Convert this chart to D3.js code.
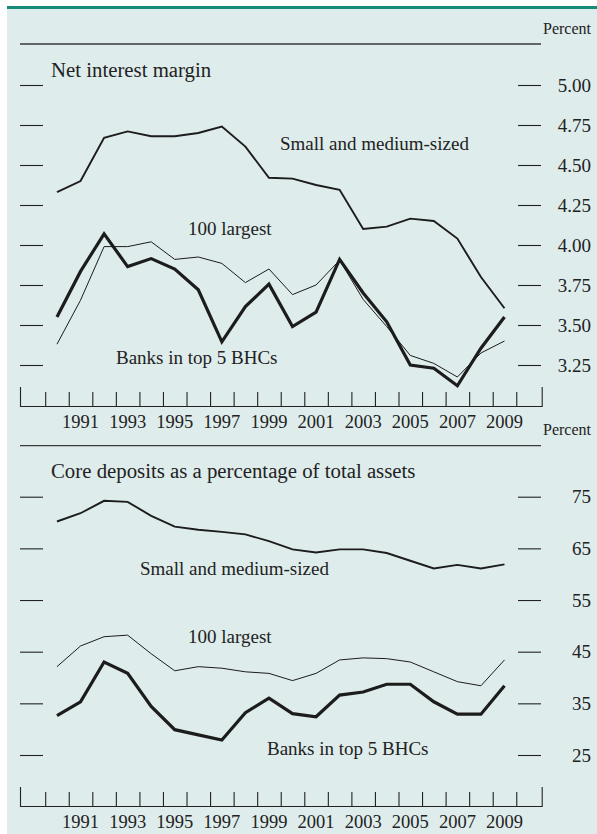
<!DOCTYPE html>
<html>
<head>
<meta charset="utf-8">
<script src="https://cdn.jsdelivr.net/npm/d3@7"></script>
<style>
  html, body { margin: 0; padding: 0; background: #ffffff; }
  svg { display: block; }
  text { font-family: "Liberation Serif", "Times New Roman", serif; fill: #222; }
</style>
</head>
<body>
<script>
// ---------- data ----------
const years = [1990, 1991, 1992, 1993, 1994, 1995, 1996, 1997, 1998, 1999,
               2000, 2001, 2002, 2003, 2004, 2005, 2006, 2007, 2008, 2009];
const yearLabels = [1991, 1993, 1995, 1997, 1999, 2001, 2003, 2005, 2007, 2009];

// Net interest margin (percent)
const nimSmall   = [4.33, 4.40, 4.67, 4.71, 4.68, 4.68, 4.70, 4.74, 4.615, 4.42,
                    4.415, 4.375, 4.345, 4.10, 4.115, 4.165, 4.15, 4.04, 3.80, 3.605];
const nimLarge100 = [3.38, 3.655, 3.99, 3.99, 4.02, 3.91, 3.925, 3.885, 3.765, 3.85,
                    3.69, 3.75, 3.905, 3.66, 3.49, 3.31, 3.26, 3.175, 3.325, 3.40];
const nimTop5    = [3.55, 3.835, 4.07, 3.865, 3.915, 3.85, 3.72, 3.395, 3.615, 3.755,
                    3.49, 3.58, 3.91, 3.70, 3.52, 3.25, 3.23, 3.12, 3.355, 3.55];
const nimTicks = [3.25, 3.50, 3.75, 4.00, 4.25, 4.50, 4.75, 5.00];

// Core deposits as a percentage of total assets
const coreSmall   = [70.2, 71.8, 74.2, 74.0, 71.3, 69.2, 68.6, 68.2, 67.7, 66.4,
                     64.8, 64.2, 64.8, 64.8, 64.1, 62.6, 61.1, 61.8, 61.1, 61.9];
const coreLarge100 = [42.1, 46.1, 47.9, 48.2, 44.6, 41.3, 42.1, 41.8, 41.1, 40.8,
                     39.4, 40.8, 43.4, 43.8, 43.65, 43.0, 41.1, 39.2, 38.4, 43.4];
const coreTop5    = [32.6, 35.3, 43.0, 40.8, 34.4, 29.9, 28.9, 27.9, 33.2, 36.0,
                     33.0, 32.4, 36.6, 37.2, 38.7, 38.7, 35.3, 32.9, 32.9, 38.4];
const coreTicks = [25, 35, 45, 55, 65, 75];

// ---------- layout ----------
const W = 597, H = 834;
const svg = d3.select("body").append("svg").attr("width", W).attr("height", H);

svg.append("rect").attr("x", 7).attr("y", 7).attr("width", W - 7).attr("height", H - 7)
   .attr("fill", "#deeceb");
svg.append("rect").attr("x", 7).attr("y", 6).attr("width", W - 7).attr("height", 3)
   .attr("fill", "#178a78");

const x = d3.scaleLinear().domain([1988.93, 2011.08]).range([20, 541.7]);
const ink = "#222";

function panel(cfg) {
  const g = svg.append("g");
  const y = d3.scaleLinear().domain(cfg.domain).range(cfg.range);

  // top rule + Percent
  g.append("line").attr("x1", 20).attr("x2", 541).attr("y1", cfg.ruleY).attr("y2", cfg.ruleY)
    .attr("stroke", "#3a3a3a").attr("stroke-width", 1.3);
  g.append("text").attr("x", 591).attr("y", cfg.percentY).attr("text-anchor", "end")
    .style("font-size", "16px").text("Percent");

  // title
  g.append("text").attr("x", 51).attr("y", cfg.titleY).style("font-size", "20.8px").text(cfg.title);

  // left ticks
  const left = g.append("g").attr("transform", "translate(43,0)")
    .call(d3.axisLeft(y).tickValues(cfg.ticks).tickSize(23).tickFormat(""));
  left.select(".domain").remove();
  left.selectAll("line").attr("stroke", ink).attr("stroke-width", 1.1);

  // right ticks + labels
  const right = g.append("g").attr("transform", "translate(518,0)")
    .call(d3.axisRight(y).tickValues(cfg.ticks).tickSize(23).tickFormat(cfg.fmt));
  right.select(".domain").remove();
  right.selectAll("line").attr("stroke", ink).attr("stroke-width", 1.1);
  right.selectAll("text").attr("x", 73).attr("text-anchor", "end")
    .style("font-size", "19px").style("font-family", "Liberation Serif, serif").attr("fill", ink);

  // x axis
  const xa = g.append("g").attr("transform", `translate(0,${cfg.baseY})`)
    .call(d3.axisTop(x).tickValues(d3.range(1990, 2011)).tickSize(14).tickSizeOuter(19).tickFormat(""));
  xa.select(".domain").attr("stroke", ink).attr("stroke-width", 1.1);
  xa.selectAll(".tick line").attr("stroke", ink).attr("stroke-width", 1.1);

  g.selectAll(".yl").data(yearLabels).enter().append("text")
    .attr("x", d => x(d + 0.5)).attr("y", cfg.baseY + 22)
    .attr("text-anchor", "middle").style("font-size", "18.5px").text(d => d);

  // series
  const line = d3.line().x((d, i) => x(years[i] + 0.5)).y(d => y(d));
  cfg.series.forEach(s => {
    g.append("path").datum(s.values).attr("d", line)
      .attr("fill", "none").attr("stroke", "#1c1c1c")
      .attr("stroke-width", s.w).attr("stroke-linejoin", "miter");
  });
  cfg.labels.forEach(l => {
    g.append("text").attr("x", l.x).attr("y", l.y).style("font-size", "19px").text(l.t);
  });
}

panel({
  domain: [3.25, 5.00], range: [365, 85],
  ticks: nimTicks, fmt: d3.format(".2f"),
  ruleY: 44, percentY: 34, titleY: 77, title: "Net interest margin",
  baseY: 406,
  series: [
    { values: nimSmall, w: 1.9 },
    { values: nimLarge100, w: 1.0 },
    { values: nimTop5, w: 3.2 }
  ],
  labels: [
    { t: "Small and medium-sized", x: 280, y: 150 },
    { t: "100 largest", x: 188, y: 235 },
    { t: "Banks in top 5 BHCs", x: 116, y: 364 }
  ]
});

panel({
  domain: [25, 75], range: [755, 496.7],
  ticks: coreTicks, fmt: d3.format("d"),
  ruleY: 445.7, percentY: 435, titleY: 478, title: "Core deposits as a percentage of total assets",
  baseY: 806,
  series: [
    { values: coreSmall, w: 1.9 },
    { values: coreLarge100, w: 1.0 },
    { values: coreTop5, w: 3.2 }
  ],
  labels: [
    { t: "Small and medium-sized", x: 140, y: 575 },
    { t: "100 largest", x: 188, y: 643 },
    { t: "Banks in top 5 BHCs", x: 267, y: 755 }
  ]
});
</script>
</body>
</html>
